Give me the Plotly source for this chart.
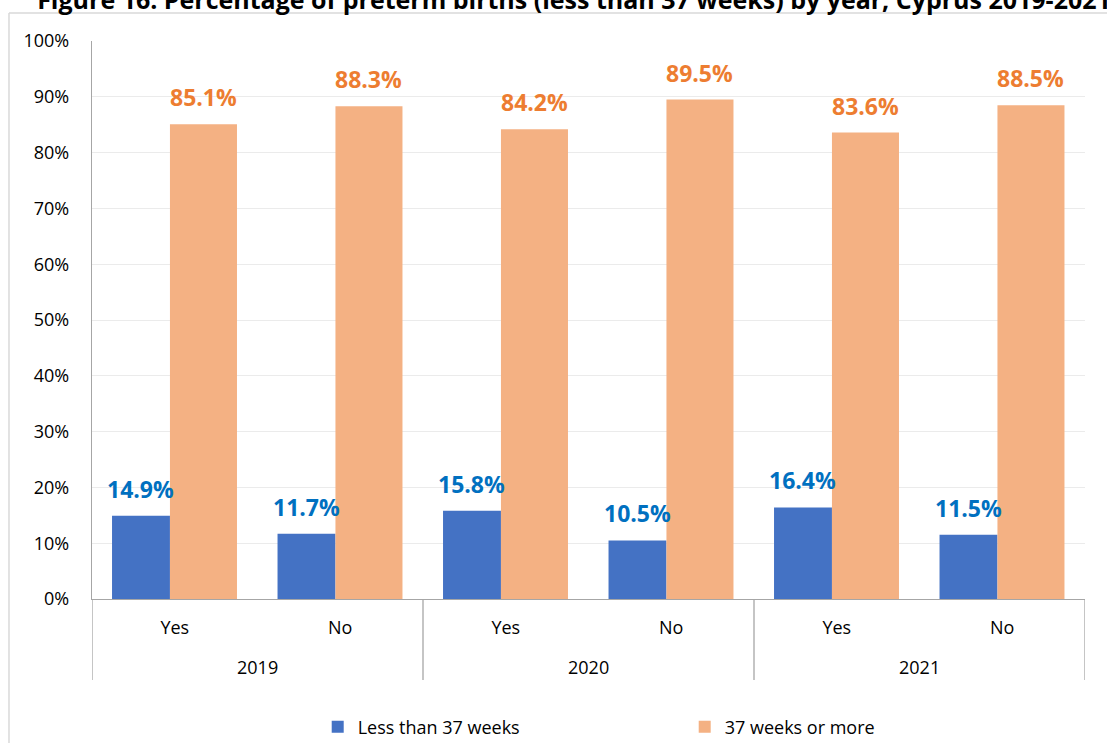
import plotly.graph_objects as go

years = ["2019", "2020", "2021"]
groups = ["Yes", "No"]
less_than_37 = [14.9, 11.7, 15.8, 10.5, 16.4, 11.5]
weeks_37_or_more = [85.1, 88.3, 84.2, 89.5, 83.6, 88.5]

FONT = "Open Sans"
BLUE = "#4472C4"
ORANGE = "#F4B183"
LINE = "#A6A6A6"

pos = list(range(len(years) * len(groups)))
ticks = groups * len(years)

# bar geometry (in category units)
blue_off, blue_w = -0.379, 0.35
orange_off, orange_w = -0.029, 0.405

fig = go.Figure()
fig.add_trace(go.Bar(x=pos, y=[v / 100 for v in less_than_37], offset=blue_off, width=blue_w,
                     name="Less than 37 weeks", marker_color=BLUE, marker_line_width=0))
fig.add_trace(go.Bar(x=pos, y=[v / 100 for v in weeks_37_or_more], offset=orange_off, width=orange_w,
                     name="37 weeks or more", marker_color=ORANGE, marker_line_width=0))

# data labels
for i in pos:
    fig.add_annotation(x=i + blue_off + blue_w / 2, y=less_than_37[i] / 100,
                       text=f"{less_than_37[i]:.1f}%", showarrow=False, yanchor="middle", yshift=27,
                       font=dict(family=FONT, size=23, color="#0070C0", weight="bold"))
    fig.add_annotation(x=i + orange_off + orange_w / 2, y=weeks_37_or_more[i] / 100,
                       text=f"{weeks_37_or_more[i]:.1f}%", showarrow=False, yanchor="middle", yshift=27,
                       font=dict(family=FONT, size=23, color="#ED7D31", weight="bold"))

# year labels and group dividers
for k, yr in enumerate(years):
    fig.add_annotation(x=k * 2 + 0.5, y=-0.122, yref="paper", text=yr, showarrow=False,
                       yanchor="middle", font=dict(family=FONT, size=18, color="#000000"))
for k in range(len(years) + 1):
    fig.add_shape(type="line", x0=k * 2 - 0.5, x1=k * 2 - 0.5, y0=0, y1=-0.145,
                  xref="x", yref="paper", line=dict(color=LINE, width=1.3))

# chart border
fig.add_shape(type="line", xref="paper", yref="paper", x0=-0.0836, x1=-0.0836, y0=1.05, y1=-0.3,
              line=dict(color="#D9D9D9", width=1.5))
fig.add_shape(type="line", xref="paper", yref="paper", x0=-0.0836, x1=1.05, y0=1.05, y1=1.05,
              line=dict(color="#D9D9D9", width=1.5))

fig.update_layout(
    width=1107, height=743,
    margin=dict(l=92, r=22, t=41, b=144),
    paper_bgcolor="white", plot_bgcolor="white",
    barmode="overlay",
    font=dict(family=FONT, size=18, color="#000000"),
    title=dict(text="Figure 16. Percentage of preterm births (less than 37 weeks) by year, Cyprus 2019-2021",
               x=0.5185, xanchor="center", y=1.0, yanchor="middle", xref="container", yref="container",
               font=dict(family=FONT, size=25, color="#000000", weight="bold")),
    legend=dict(orientation="h", xref="container", yref="container", x=0.287, xanchor="left",
                y=0.0215, yanchor="middle", entrywidth=322, font=dict(family=FONT, size=18)),
    showlegend=True,
)
fig.update_xaxes(range=[-0.5, 5.5], tickvals=pos, ticktext=ticks, showgrid=False,
                 showline=True, linecolor=LINE, linewidth=1.3, ticks="", ticklabelstandoff=12,
                 zeroline=False)
fig.update_yaxes(range=[0, 1], dtick=0.1, tickformat=".0%", showgrid=True, gridcolor="#EBEBEB",
                 showline=True, linecolor=LINE, linewidth=1.3, ticks="", ticklabelstandoff=18,
                 zeroline=False)

# page body has a default 8px margin; drop it so the figure fills the window
fig.write_html("out.html", config={"displayModeBar": False},
               post_script="document.body.style.margin = '0';")
